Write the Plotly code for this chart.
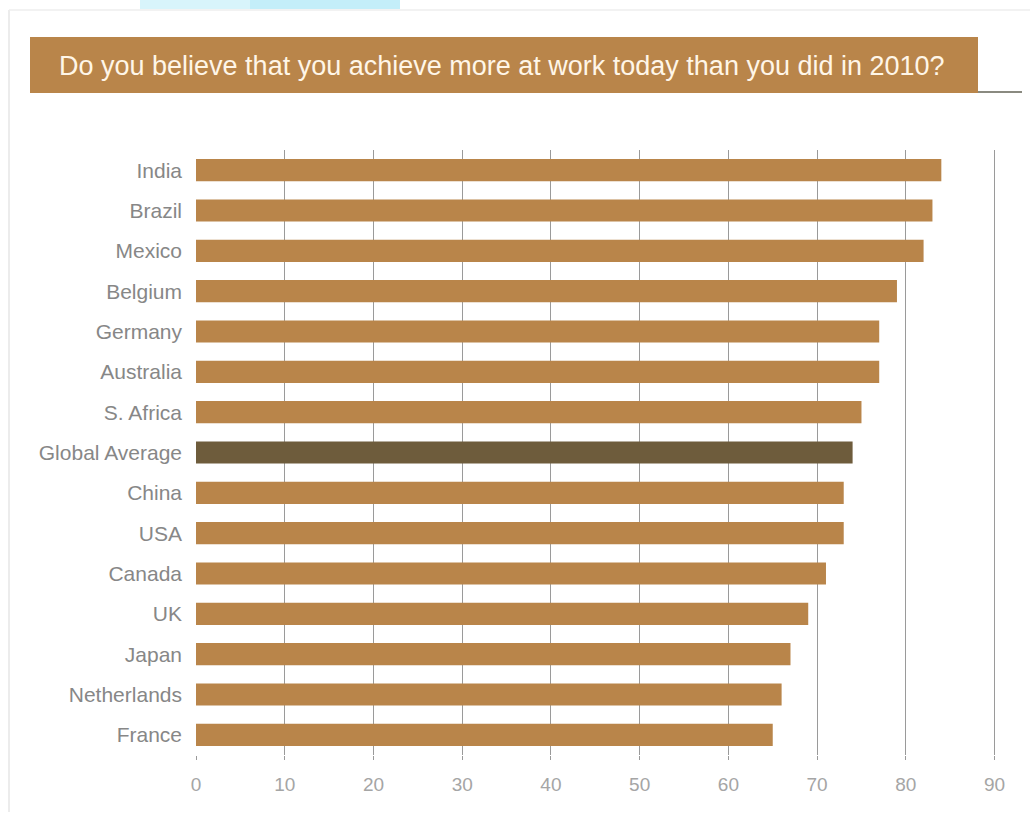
import plotly.graph_objects as go

countries = ["India", "Brazil", "Mexico", "Belgium", "Germany", "Australia", "S. Africa",
             "Global Average", "China", "USA", "Canada", "UK", "Japan", "Netherlands", "France"]
values = [84, 83, 82, 79, 77, 77, 75, 74, 73, 73, 71, 69, 67, 66, 65]
tick_vals = [0, 10, 20, 30, 40, 50, 60, 70, 80, 90]
title_text = "Do you believe that you achieve more at work today than you did in 2010?"

BAR = "#B9854A"
AVG = "#6E5C3C"
colors = [AVG if c == "Global Average" else BAR for c in countries]
FONT = "Liberation Sans, Arial, sans-serif"

W, H = 1034, 815
XMAX = 90.5
L, B, T = 196, 755, 150
R = round(L + 799 / 90 * XMAX)
pw, ph = R - L, B - T

def xp(px):
    return (px - L) / pw

def yp(py):
    return (B - py) / ph

fig = go.Figure(go.Bar(
    x=values, y=countries, orientation="h",
    marker=dict(color=colors, line=dict(width=0)),
    width=0.55, hoverinfo="x+y",
))

shapes = [
    dict(type="rect", xref="paper", yref="paper", x0=xp(30), x1=xp(978), y0=yp(93), y1=yp(37),
         fillcolor="#B9854A", line=dict(width=0), layer="above"),
    dict(type="line", xref="paper", yref="paper", x0=xp(978), x1=xp(1022), y0=yp(92), y1=yp(92),
         line=dict(color="#8a8a80", width=2)),
    dict(type="line", xref="paper", yref="paper", x0=xp(9), x1=xp(9), y0=yp(10), y1=yp(812),
         line=dict(color="#e6e6e6", width=1.5)),
    dict(type="line", xref="paper", yref="paper", x0=xp(9), x1=xp(1030), y0=yp(10), y1=yp(10),
         line=dict(color="#eeeeee", width=1.5)),
    dict(type="rect", xref="paper", yref="paper", x0=xp(140), x1=xp(400), y0=yp(9), y1=yp(0),
         fillcolor="#d8f4fb", line=dict(width=0), layer="below"),
    dict(type="rect", xref="paper", yref="paper", x0=xp(250), x1=xp(400), y0=yp(9), y1=yp(0),
         fillcolor="#c4eef9", line=dict(width=0), layer="below"),
]

fig.update_layout(
    width=W, height=H,
    margin=dict(l=L, r=W - R, t=T, b=H - B, autoexpand=False),
    paper_bgcolor="white", plot_bgcolor="white",
    showlegend=False,
    shapes=shapes,
    annotations=[dict(
        text=title_text, xref="paper", yref="paper", x=xp(57), y=yp(66),
        xanchor="left", yanchor="middle", showarrow=False,
        font=dict(family=FONT, size=27, color="#FFF6E8"),
    )],
    xaxis=dict(
        range=[0, XMAX], tickvals=tick_vals, showgrid=True, gridcolor="#9a9a9a", gridwidth=1,
        zeroline=False, showline=False, ticks="outside", ticklen=4, tickcolor="#9a9a9a",
        ticklabelstandoff=8,
        tickfont=dict(family=FONT, size=19, color="#a5a5a5"),
        fixedrange=True,
    ),
    yaxis=dict(
        categoryorder="array", categoryarray=countries[::-1],
        range=[-0.5, len(countries) - 0.5],
        showgrid=False, zeroline=False, showline=False, ticks="",
        ticklabelstandoff=13,
        tickfont=dict(family=FONT, size=21, color="#878787"),
        fixedrange=True,
    ),
    bargap=0.45,
)

fig.write_html("out.html")
